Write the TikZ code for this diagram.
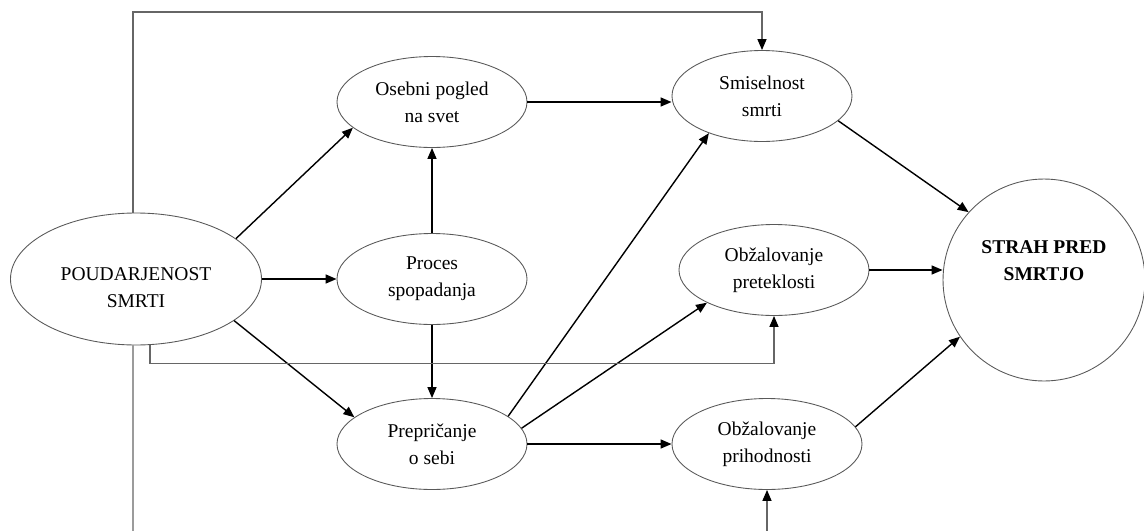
\documentclass[tikz,border=0pt]{standalone}
\usepackage{fontspec}
\setmainfont{Liberation Serif}
\usetikzlibrary{shapes.geometric,arrows.meta}

\definecolor{cor_linha}{gray}{0.40}
\definecolor{cor_borda}{gray}{0.35}

\begin{document}
\begin{tikzpicture}[x=0.02cm,y=-0.02cm]
        \tikzset{
            elip/.style={
                draw=cor_borda,
                ellipse,
                line width=0.5pt,
                inner sep=0pt,
                align=center,
                font=\fontsize{11.1}{15.5}\selectfont,
                minimum width=#1*0.02cm,
                minimum height=1.82cm
            },
            seta/.style={
                line width=0.8pt,
                -{Triangle[length=0.22cm,width=0.18cm,color=black]}
            },
            linha/.style={
                draw=cor_linha,
                line width=0.6pt
            }
        }
        \useasboundingbox (0,0) rectangle (1144,531);

        %ELIPSES
        \node[elip=251, minimum height=2.64cm] (poud) at (136,279) {\rule{0pt}{0.6cm}POUDARJENOST\\SMRTI};
        \node[elip=190] (osebni) at (432,102) {Osebni pogled\\na svet};
        \node[elip=190] (proces) at (432,279) {Proces\\spopadanja};
        \node[elip=190] (prepr) at (432,444) {Prepričanje\\o sebi};
        \node[elip=180] (smisel) at (762,96) {Smiselnost\\smrti};
        \node[elip=190] (pretek) at (774,270) {Obžalovanje\\preteklosti};
        \node[elip=190] (prihod) at (767,444) {Obžalovanje\\prihodnosti};
        \node[draw=cor_borda, circle, line width=0.5pt, inner sep=0pt, align=center,
              minimum size=4.04cm, font=\fontsize{11.1}{15.5}\selectfont\bfseries]
              (strah) at (1044,280) {STRAH PRED\\SMRTJO\\[0.24cm]};

        %SETAS
        \draw[seta] (poud.22) -- (osebni.198);
        \draw[seta] (poud.east) -- (proces.west);
        \draw[seta] (poud.-23) -- (prepr.161);
        \draw[seta] (proces.north) -- (osebni.south);
        \draw[seta] (proces.south) -- (prepr.north);
        \draw[seta] (osebni.east) -- (osebni.east -| smisel.west);
        \draw[seta] (prepr.20) -- (smisel.215);
        \draw[seta] (prepr.10) -- (pretek.206);
        \draw[seta] (prepr.east) -- (prihod.west);
        \draw[seta] (smisel.-18) -- (strah.138);
        \draw[seta] (pretek.east) -- (pretek.east -| strah.west);
        \draw[seta] (prihod.11) -- (strah.214);

        %LINHAS
        \coordinate (topo) at (0,12);
        \coordinate (baixoE) at (133,531);
        \coordinate (baixoD) at (767,531);
        \draw[linha, seta, draw=cor_linha] ([xshift=-0.06cm]poud.north) |- (topo -| smisel.north) -- (smisel.north);
        \draw[linha, seta] ([xshift=0.28cm]poud.south) -- ++(0,18) -| (pretek.south);
        \draw[linha] ([xshift=-0.06cm]poud.south) -- (baixoE);
        \draw[linha, seta] (baixoD) -- (prihod.south);

\end{tikzpicture}
\end{document}
